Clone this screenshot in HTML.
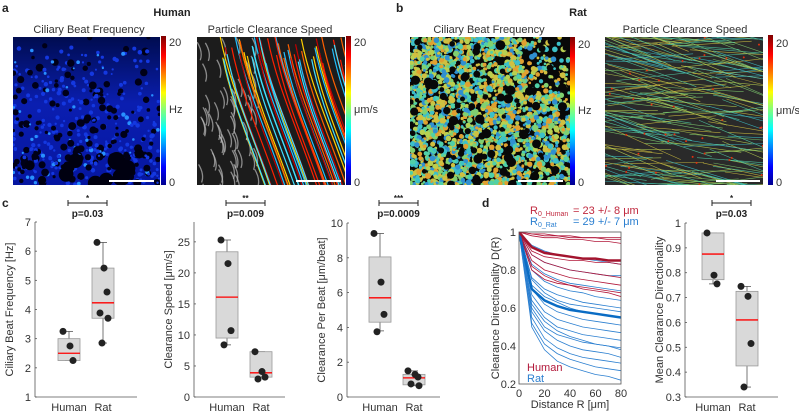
<!DOCTYPE html>
<html><head><meta charset="utf-8">
<style>
html,body{margin:0;padding:0;background:#fff;}
svg{display:block;font-family:"Liberation Sans",Arial,sans-serif;}
.t{font-size:11px;fill:#333;}
.b{font-weight:bold;fill:#222;}
</style></head>
<body>
<svg id="fig" width="799" height="412" viewBox="0 0 799 412" xmlns="http://www.w3.org/2000/svg">
<defs>
<linearGradient id="jet" x1="0" y1="1" x2="0" y2="0">
<stop offset="0" stop-color="#00008f"/><stop offset="0.12" stop-color="#0000ff"/>
<stop offset="0.37" stop-color="#00ffff"/><stop offset="0.5" stop-color="#7fff7f"/>
<stop offset="0.62" stop-color="#ffff00"/><stop offset="0.87" stop-color="#ff0000"/>
<stop offset="1" stop-color="#800000"/></linearGradient>
<linearGradient id="blueBg" x1="0" y1="0" x2="0" y2="1">
<stop offset="0" stop-color="#000c50"/><stop offset="0.45" stop-color="#0a1eb0"/><stop offset="1" stop-color="#0616a0"/></linearGradient>
<clipPath id="c1"><rect x="13" y="37" width="147" height="148"/></clipPath>
<clipPath id="c2"><rect x="197" y="37" width="148" height="148"/></clipPath>
<clipPath id="c3"><rect x="410" y="37" width="160" height="148"/></clipPath>
<clipPath id="c4"><rect x="605" y="37" width="158" height="148"/></clipPath>
<clipPath id="cd"><rect x="519" y="232" width="102" height="152"/></clipPath>
</defs>

<text x="2" y="12" class="b" font-size="12">a</text>
<text x="172" y="16" class="b" font-size="11" text-anchor="middle">Human</text>
<text x="396" y="12" class="b" font-size="12">b</text>
<text x="578" y="16" class="b" font-size="11" text-anchor="middle">Rat</text>
<text x="89" y="33" class="t" font-size="11" text-anchor="middle">Ciliary Beat Frequency</text>
<text x="270" y="33" class="t" font-size="11" text-anchor="middle">Particle Clearance Speed</text>
<text x="489" y="33" class="t" font-size="11" text-anchor="middle">Ciliary Beat Frequency</text>
<text x="685" y="33" class="t" font-size="11" text-anchor="middle">Particle Clearance Speed</text>

<g id="img1" clip-path="url(#c1)"><rect x="13" y="37" width="147" height="148" fill="url(#blueBg)"/></g>
<g id="img2" clip-path="url(#c2)"><rect x="197" y="37" width="148" height="148" fill="#1c1c1c"/></g>
<g id="img3" clip-path="url(#c3)"><rect x="410" y="37" width="160" height="148" fill="#080808"/></g>
<g id="img4" clip-path="url(#c4)"><rect x="605" y="37" width="158" height="148" fill="#2a2a2a"/></g>

<rect x="161" y="36" width="5" height="149" fill="url(#jet)"/>
<text x="169" y="46" class="t" font-size="11">20</text>
<text x="169" y="113" class="t" font-size="11">Hz</text>
<text x="169" y="186" class="t" font-size="11">0</text>
<rect x="346" y="36" width="5" height="149" fill="url(#jet)"/>
<text x="354" y="46" class="t" font-size="11">20</text>
<text x="354" y="113" class="t" font-size="11">μm/s</text>
<text x="354" y="186" class="t" font-size="11">0</text>
<rect x="570" y="37" width="5" height="148" fill="url(#jet)"/>
<text x="578" y="48" class="t" font-size="11">20</text>
<text x="578" y="114" class="t" font-size="11">Hz</text>
<text x="578" y="186" class="t" font-size="11">0</text>
<rect x="768" y="35" width="5" height="150" fill="url(#jet)"/>
<text x="776" y="47" class="t" font-size="11">20</text>
<text x="776" y="114" class="t" font-size="11">μm/s</text>
<text x="776" y="186" class="t" font-size="11">0</text>

<text x="2" y="207" class="b" font-size="12">c</text>
<text x="482" y="207" class="b" font-size="12">d</text>
<g id="plots"></g>
</svg>
<script>
// ---- data: box plots ----
const groupLabels = ["Human", "Rat"];
const cbfHuman = [3.25, 2.75, 2.25];
const cbfRat = [6.3, 5.42, 4.6, 3.88, 3.7, 2.85];
const cbfBoxHuman = [2.25, 2.25, 2.5, 3.0, 3.25];
const cbfBoxRat = [2.85, 3.7, 4.23, 5.42, 6.3];
const cbfTicks = [1, 2, 3, 4, 5, 6, 7];
const spdHuman = [25.3, 21.5, 10.7, 8.4];
const spdRat = [7.3, 4.1, 3.2, 2.9];
const spdBoxHuman = [8.4, 9.5, 16.1, 23.4, 25.3];
const spdBoxRat = [3.2, 3.2, 3.9, 7.3, 7.3];
const spdTicks = [0, 5, 10, 15, 20, 25];
const cpbHuman = [9.4, 6.6, 4.75, 3.75];
const cpbRat = [1.5, 1.3, 1.15, 0.75, 0.65];
const cpbBoxHuman = [3.8, 4.3, 5.7, 8.05, 9.4];
const cpbBoxRat = [0.65, 0.7, 1.1, 1.3, 1.5];
const cpbTicks = [0, 2, 4, 6, 8, 10];
const mcdHuman = [0.96, 0.79, 0.755];
const mcdRat = [0.745, 0.705, 0.515, 0.34];
const mcdBoxHuman = [0.755, 0.772, 0.875, 0.96, 0.96];
const mcdBoxRat = [0.34, 0.425, 0.61, 0.725, 0.745];
const mcdTicks = [0.3, 0.4, 0.5, 0.6, 0.7, 0.8, 0.9, 1];
// ---- data: directionality curves (D at R = 0,10,...,80) ----
const distR = [0, 10, 20, 30, 40, 50, 60, 70, 80];
const distTicks = [0, 20, 40, 60, 80];
const dirTicks = [0.2, 0.4, 0.6, 0.8, 1];
const humanCurves = [
 [1,.99,.98,.98,.97,.97,.97,.96,.96],[1,.98,.97,.97,.96,.96,.95,.95,.94],
 [1,.99,.99,.98,.98,.97,.97,.97,.97],[1,.9,.87,.86,.85,.85,.84,.84,.83],
 [1,.88,.84,.82,.80,.79,.78,.77,.76],[1,.85,.80,.78,.76,.75,.74,.73,.72],
 [1,.8,.75,.73,.72,.71,.70,.69,.68],[1,.82,.77,.74,.72,.70,.69,.68,.66]];
const humanMean = [1,.92,.89,.88,.87,.86,.86,.85,.85];
const ratCurves = [
 [1,.93,.9,.88,.87,.86,.85,.84,.83],[1,.88,.84,.82,.80,.79,.78,.77,.77],
 [1,.83,.78,.75,.73,.72,.71,.70,.69],[1,.8,.74,.71,.69,.68,.66,.65,.64],
 [1,.76,.7,.67,.65,.63,.62,.61,.60],[1,.72,.66,.63,.6,.58,.57,.56,.55],
 [1,.7,.62,.58,.56,.54,.53,.52,.51],[1,.67,.58,.54,.52,.50,.49,.48,.47],
 [1,.64,.55,.5,.48,.46,.45,.44,.43],[1,.6,.5,.46,.44,.42,.41,.40,.39],
 [1,.58,.48,.43,.40,.38,.37,.36,.34],[1,.55,.44,.39,.36,.34,.33,.32,.31],
 [1,.52,.41,.36,.33,.31,.29,.28,.27],[1,.5,.38,.32,.29,.27,.25,.24,.22],
 [1,.62,.53,.48,.45,.43,.41,.40,.38],[1,.75,.68,.64,.62,.61,.60,.59,.58]];
const ratMean = [1,.7,.64,.61,.59,.58,.57,.56,.55];

const NS = "http://www.w3.org/2000/svg";
function mk(tag, attrs, parent) {
  const e = document.createElementNS(NS, tag);
  for (const k in attrs) e.setAttribute(k, attrs[k]);
  parent.appendChild(e);
  return e;
}
const plots = document.getElementById("plots");

function boxPanel(cfg) {
  const g = mk("g", {}, plots);
  
  
  const y = v => cfg.y0 - (v - cfg.min) / (cfg.max - cfg.min) * (cfg.y0 - cfg.ytop);
  const cx = [cfg.xl + cfg.m, cfg.xl + cfg.m + 34];
  mk("line", {x1: cfg.xl, y1: cfg.ytop, x2: cfg.xl, y2: cfg.y0, stroke: "#555", "stroke-width": 0.8}, g);
  mk("line", {x1: cfg.xl, y1: cfg.y0, x2: cfg.xr, y2: cfg.y0, stroke: "#555", "stroke-width": 0.8}, g);
  cfg.ticks.forEach(t => {
    mk("line", {x1: cfg.xl, y1: y(t), x2: cfg.xl + 2, y2: y(t), stroke: "#555", "stroke-width": 0.8}, g);
    const tl = mk("text", {x: cfg.xl - 4, y: y(t) + 4, "text-anchor": "end", class: "t", "font-size": 11}, g);
    
    
    tl.textContent = String(t);
  });
  const yl = mk("text", {x: 0, y: 0, "text-anchor": "middle", class: "t", "font-size": 11,
    transform: `translate(${cfg.xl - 22},${(cfg.ytop + cfg.y0) / 2}) rotate(-90)`}, g);
  
  
  yl.textContent = cfg.ylabel;
  [cfg.boxH, cfg.boxR].forEach((b, i) => {
    const c = cx[i];
    const gl = mk("text", {x: c, y: cfg.y0 + 14, "text-anchor": "middle", class: "t", "font-size": 11}, g);
    
    
    gl.textContent = groupLabels[i];
    mk("line", {x1: c, y1: y(b[0]), x2: c, y2: y(b[4]), stroke: "#555", "stroke-width": 0.8}, g);
    mk("line", {x1: c - 4, y1: y(b[4]), x2: c + 4, y2: y(b[4]), stroke: "#555", "stroke-width": 0.8}, g);
    mk("line", {x1: c - 4, y1: y(b[0]), x2: c + 4, y2: y(b[0]), stroke: "#555", "stroke-width": 0.8}, g);
    const r = mk("rect", {x: c - 11, y: y(b[3]), width: 22, height: Math.max(1, y(b[1]) - y(b[3])), fill: "#d9d9d9", stroke: "#999", "stroke-width": 0.8}, g);
    
    
    mk("line", {x1: c - 11, y1: y(b[2]), x2: c + 11, y2: y(b[2]), stroke: "#ff0000", "stroke-width": 1.3}, g);
  });
  [cfg.ptsH, cfg.ptsR].forEach((pts, i) => {
    pts.forEach((v, j) => {
      const off = [-6, 1, 4, -3, 5, -1][j % 6];
      const p = mk("circle", {cx: cx[i] + off, cy: y(v), r: 3.5, fill: "#222"}, g);
      
      
    });
  });
  const sx1 = cx[0] - 1, sx2 = cx[1] + 4;
  mk("line", {x1: sx1, y1: 203, x2: sx2, y2: 203, stroke: "#222", "stroke-width": 1}, g);
  mk("line", {x1: sx1, y1: 200, x2: sx1, y2: 206, stroke: "#222", "stroke-width": 1}, g);
  mk("line", {x1: sx2, y1: 200, x2: sx2, y2: 206, stroke: "#222", "stroke-width": 1}, g);
  const st = mk("text", {x: (sx1 + sx2) / 2, y: 201, "text-anchor": "middle", class: "b", "font-size": 8}, g);
  
  
  st.textContent = cfg.stars;
  const pt = mk("text", {x: (sx1 + sx2) / 2, y: 217, "text-anchor": "middle", class: "b", "font-size": 10}, g);
  
  
  pt.textContent = cfg.p;
}

boxPanel({name: "cbf-boxplot", xl: 35, xr: 137, m: 34, ytop: 222, y0: 397, min: 1, max: 7, ticks: cbfTicks,
  ylabel: "Ciliary Beat Frequency [Hz]", boxH: cbfBoxHuman, boxR: cbfBoxRat, ptsH: cbfHuman, ptsR: cbfRat, stars: "*", p: "p=0.03"});
boxPanel({name: "speed-boxplot", xl: 194, xr: 285, m: 33, ytop: 222, y0: 397, min: 0, max: 28.2, ticks: spdTicks,
  ylabel: "Clearance Speed [μm/s]", boxH: spdBoxHuman, boxR: spdBoxRat, ptsH: spdHuman, ptsR: spdRat, stars: "**", p: "p=0.009"});
boxPanel({name: "per-beat-boxplot", xl: 347, xr: 440, m: 33, ytop: 223, y0: 397, min: 0, max: 10, ticks: cpbTicks,
  ylabel: "Clearance Per Beat [μm/beat]", boxH: cpbBoxHuman, boxR: cpbBoxRat, ptsH: cpbHuman, ptsR: cpbRat, stars: "***", p: "p=0.0009"});
boxPanel({name: "directionality-boxplot", xl: 685, xr: 778, m: 28, ytop: 223, y0: 397, min: 0.3, max: 1, ticks: mcdTicks,
  ylabel: "Mean Clearance Directionality", boxH: mcdBoxHuman, boxR: mcdBoxRat, ptsH: mcdHuman, ptsR: mcdRat, stars: "*", p: "p=0.03"});

// ---- panel d ----
(function () {
  const g = mk("g", {}, plots);
  
  
  const X0 = 519, X1 = 621, Y0 = 384, YT = 232;
  const x = v => X0 + v / 80 * (X1 - X0);
  const y = v => Y0 - (v - 0.2) / 0.8 * (Y0 - YT);
  const lines = mk("g", {"clip-path": "url(#cd)"}, g);
  function draw(arr, col, w, nm) {
    const pl = mk("polyline", {points: arr.map((v, i) => x(distR[i]) + "," + y(v)).join(" "), fill: "none", stroke: col, "stroke-width": w}, lines);
    
    
  }
  ratCurves.forEach(c => draw(c, "#2b7fd0", 0.8, "rat-curve"));
  humanCurves.forEach(c => draw(c, "#b2183a", 0.8, "human-curve"));
  draw(ratMean, "#0a6cc4", 2.5, "rat-mean-curve");
  draw(humanMean, "#a3142e", 2.5, "human-mean-curve");
  mk("rect", {x: X0, y: YT, width: X1 - X0, height: Y0 - YT, fill: "none", stroke: "#555", "stroke-width": 0.8}, g);
  dirTicks.forEach(t => {
    const tl = mk("text", {x: X0 - 3, y: y(t) + 4, "text-anchor": "end", class: "t", "font-size": 11}, g);
    
    
    tl.textContent = String(t);
  });
  distTicks.forEach(t => {
    const tl = mk("text", {x: x(t), y: Y0 + 13, "text-anchor": "middle", class: "t", "font-size": 11}, g);
    
    
    tl.textContent = String(t);
  });
  const xt = mk("text", {x: 570, y: 408, "text-anchor": "middle", class: "t", "font-size": 11}, g);
  
  
  xt.textContent = "Distance R [μm]";
  const yt = mk("text", {x: 0, y: 0, "text-anchor": "middle", class: "t", "font-size": 11, transform: "translate(499,308) rotate(-90)"}, g);
  
  
  yt.textContent = "Clearance Directionality D(R)";
  const l1 = mk("text", {x: 527, y: 371, "font-size": 11, fill: "#b2183a"}, g);
  
  
  l1.textContent = "Human";
  const l2 = mk("text", {x: 527, y: 382, "font-size": 11, fill: "#2b7fd0"}, g);
  
  
  l2.textContent = "Rat";
  const a1 = mk("text", {x: 530, y: 214, "font-size": 11, fill: "#c0283e"}, g);
  
  
  a1.innerHTML = 'R<tspan font-size="7" dy="2">0_Human</tspan><tspan dy="-2" x="570"> = 23 +/- 8 μm</tspan>';
  const a2 = mk("text", {x: 530, y: 225, "font-size": 11, fill: "#2b7fd0"}, g);
  
  
  a2.innerHTML = 'R<tspan font-size="7" dy="2">0_Rat</tspan><tspan dy="-2" x="570"> = 29 +/- 7 μm</tspan>';
})();

// ---- image textures (decorative, deterministic) ----
let seed = 7;
function rnd() { seed = (seed * 16807) % 2147483647; return seed / 2147483647; }
const ratCbfCols = ["#3cc0c8", "#50d0a8", "#80d070", "#b8d050", "#d0c040", "#3090d0", "#e0a030"];
(function () {
  const g1 = document.getElementById("img1");
  for (let i = 0; i < 500; i++) {
    const yy = 37 + Math.pow(rnd(), 0.6) * 148;
    const xx = 13 + rnd() * 147;
    if (rnd() < 0.3) mk("circle", {cx: xx, cy: yy, r: 1.5 + rnd() * 2.5, fill: "#000018"}, g1);
    else mk("circle", {cx: xx, cy: yy, r: 1 + rnd() * 1.3, fill: rnd() < 0.15 ? "#2890ff" : "#1438e0"}, g1);
  }
  for (let i = 0; i < 12; i++) mk("circle", {cx: 20 + rnd() * 120, cy: 150 + rnd() * 35, r: 4 + rnd() * 5, fill: "#000010"}, g1);
  mk("line", {x1: 109, y1: 181, x2: 154, y2: 181, stroke: "#fff", "stroke-width": 2}, g1);
  const g2 = document.getElementById("img2");
  for (let i = 0; i < 60; i++) {
    const xx = 197 + rnd() * 60, yy = 37 + rnd() * 148;
    mk("path", {d: `M${xx} ${yy} q 6 10 3 18`, stroke: "#bbb", "stroke-width": 1.3, fill: "none", opacity: 0.7}, g2);
  }
  for (let i = 0; i < 55; i++) {
    const xs = 215 + rnd() * 140, ys = 35 + rnd() * 30;
    const col = ["#ff2000", "#c00000", "#ffd000", "#40e0ff", "#ff6000", "#20c0ff"][i % 6];
    mk("path", {d: `M${xs} ${ys} C ${xs + 10} ${ys + 50}, ${xs + 30} ${ys + 90}, ${xs + 50} ${ys + 150}`, stroke: col, "stroke-width": 1.2, fill: "none"}, g2);
  }
  mk("line", {x1: 296, y1: 181, x2: 341, y2: 181, stroke: "#fff", "stroke-width": 2}, g2);
  const g3 = document.getElementById("img3");
  for (let i = 0; i < 2600; i++) {
    const xx = 410 + rnd() * 160, yy = 37 + rnd() * 148;
    if (xx > 525 && yy < 95 && rnd() < 0.7) continue;
    mk("circle", {cx: xx, cy: yy, r: 1.2 + rnd() * 1.8, fill: ratCbfCols[Math.floor(rnd() * 7)]}, g3);
  }
  for (let i = 0; i < 90; i++) mk("circle", {cx: 410 + rnd() * 160, cy: 37 + rnd() * 148, r: 2 + rnd() * 3, fill: "#080808"}, g3);
  mk("line", {x1: 518, y1: 181, x2: 563, y2: 181, stroke: "#fff", "stroke-width": 2}, g3);
  const g4 = document.getElementById("img4");
  for (let i = 0; i < 200; i++) {
    const xs = 600 + rnd() * 170, ys = 30 + rnd() * 160;
    const ang = -0.4 + rnd() * 0.6;
    mk("line", {x1: xs - 40, y1: ys - 40 * ang - 10, x2: xs + 40, y2: ys + 40 * ang + 10, stroke: ratCbfCols[Math.floor(rnd() * 5)], "stroke-width": 0.6, opacity: 0.85}, g4);
  }
  for (let i = 0; i < 40; i++) mk("circle", {cx: 605 + rnd() * 158, cy: 37 + rnd() * 148, r: 1, fill: "#e03010"}, g4);
  mk("line", {x1: 716, y1: 181, x2: 760, y2: 181, stroke: "#fff", "stroke-width": 2}, g4);
})();
</script>
</body></html>
